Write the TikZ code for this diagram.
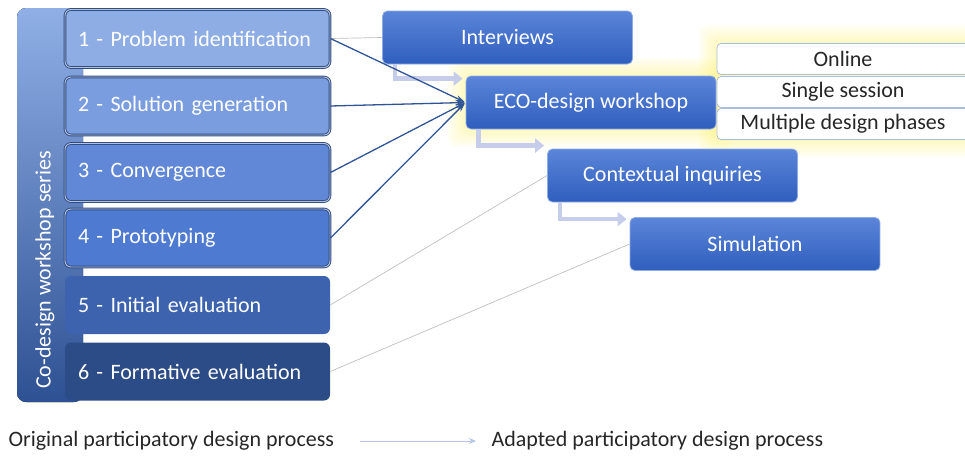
\documentclass[tikz,border=0pt]{standalone}
\usepackage{fontspec}
\setmainfont{Carlito}
\usetikzlibrary{arrows.meta}
\definecolor{stripTop}{HTML}{8FAFE6}
\definecolor{stripBot}{HTML}{2E5193}
\definecolor{stageA}{HTML}{8EADE5}
\definecolor{stageB}{HTML}{7A9DDF}
\definecolor{stageC}{HTML}{6188D6}
\definecolor{stageD}{HTML}{4E7BD1}
\definecolor{stageE}{HTML}{3D63AE}
\definecolor{stageF}{HTML}{2C4C88}
\definecolor{stageLine}{HTML}{2F4D86}
\definecolor{procTop}{HTML}{5B85D9}
\definecolor{procBot}{HTML}{2F5EBD}
\definecolor{procEdge}{HTML}{8EACE6}
\definecolor{optEdge}{HTML}{A9BEDF}
\definecolor{feedBlue}{HTML}{2F5597}
\definecolor{flowTint}{HTML}{C5CDEB}
\definecolor{legendBlue}{HTML}{B4C7E7}
\definecolor{glow}{HTML}{FFF06A}
\newcommand{\boxfont}{\fontsize{22}{26}\selectfont}
\tikzset{
	stagebox/.style={rounded corners=6pt,minimum width=265pt,minimum height=58pt,text width=239pt,inner xsep=13pt,align=left,text=white,font=\boxfont},
	stageedge/.style={draw=stageLine,line width=0.9pt,double=stageLine!35!white,double distance=0.9pt},
	procbox/.style={rounded corners=5pt,minimum width=250pt,minimum height=53pt,top color=procTop,bottom color=procBot,draw=procEdge,line width=0.8pt,text=white,font=\boxfont},
	optbox/.style={rounded corners=4pt,minimum width=252pt,minimum height=31pt,inner sep=0pt,fill=white,draw=optEdge,line width=0.8pt,text=black!85,font=\boxfont},
	feedarrow/.style={draw=feedBlue,line width=1.3pt,-{Stealth[length=9pt,width=6pt]},shorten >=1pt},
	linkline/.style={draw=black!25,line width=0.7pt},
	flowarrow/.style={draw=flowTint,line width=4.5pt,-{Triangle[length=9pt,width=14pt]},shorten >=3pt},
	legendarrow/.style={draw=legendBlue,line width=1pt,-{Stealth[length=7pt,width=6pt]}}
}
\begin{document}
\begin{tikzpicture}[x=1pt,y=-1pt]
	\useasboundingbox (0,0) rectangle (965,455);
	% series band behind the stages
	\fill[top color=stripTop,bottom color=stripBot,rounded corners=9pt] (17,8) rectangle (83,402);
	\node[rotate=90,text=white,font=\boxfont] (series) at (45,270) {Co-design workshop series};
	% the six stages
	\node[stagebox,stageedge,fill=stageA] (p1) at (197.5,38.5) {1 - Problem identification};
	\node[stagebox,stageedge,fill=stageB] (p2) at (197.5,106) {2 - Solution generation};
	\node[stagebox,stageedge,fill=stageC] (p3) at (197.5,172.5) {3 - Convergence};
	\node[stagebox,stageedge,fill=stageD] (p4) at (197.5,238) {4 - Prototyping};
	\node[stagebox,fill=stageE] (p5) at (197.5,305) {5 - Initial evaluation};
	\node[stagebox,fill=stageF] (p6) at (197.5,371.5) {6 - Formative evaluation};
	% soft highlight round the workshop and its options
	\foreach \g in {3,6,...,18} {
		\fill[glow,opacity=0.08,rounded corners=8pt] (466-\g,76-\g) rectangle (716+\g,129+\g);
		\fill[glow,opacity=0.08,rounded corners=8pt] (717-\g,43-\g) rectangle (969+\g,139+\g);
	}
	% adapted process
	\node[procbox] (intv) at (507.5,37.5) {Interviews};
	\node[procbox] (eco) at (591,102.5) {ECO-design workshop};
	\node[procbox] (ctx) at (672.5,175.5) {Contextual inquiries};
	\node[procbox] (sim) at (755,244) {Simulation};
	\node[optbox] (opt1) at (843,59) {Online};
	\node[optbox] (opt2) at (843,92) {Single session};
	\node[optbox] (opt3) at (843,124) {Multiple design phases};
	% steps of the adapted process
	\draw[flowarrow] ([xshift=13pt]intv.south west) |- ([yshift=-3pt]eco.north west);
	\draw[flowarrow] ([xshift=13pt]eco.south west) |- ([yshift=3pt]ctx.north west);
	\draw[flowarrow] ([xshift=13pt]ctx.south west) |- ([yshift=-2pt]sim.north west);
	% stages mapped onto the new process
	\draw[linkline] (p1.east) -- (intv.west);
	\draw[linkline] (p5.east) -- (ctx.west);
	\draw[linkline] (p6.east) -- (sim.west);
	\foreach \s in {p1,p2,p3,p4}
		\draw[feedarrow] (\s.east) -- (eco.west);
	% legend
	\node[anchor=west,font=\boxfont,text=black!85] (orig) at (5,441) {Original participatory design process};
	\node[anchor=west,font=\boxfont,text=black!85] (adapt) at (488,441) {Adapted participatory design process};
	\draw[legendarrow,shorten <=22pt,shorten >=12pt] (orig) -- (adapt);
\end{tikzpicture}
\end{document}
